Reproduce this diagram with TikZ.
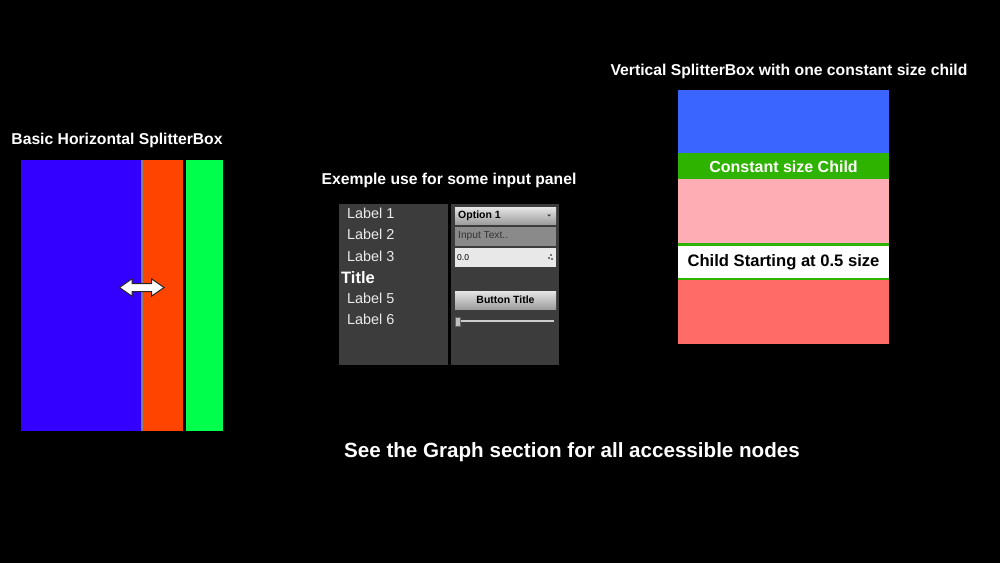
\documentclass[tikz,border=0pt]{standalone}
\usepackage{fontspec}
\setmainfont{Liberation Sans}
\begin{document}
\begin{tikzpicture}[x=1pt,y=-1pt,
  ttl/.style={text=white,font=\bfseries\fontsize{15.7}{16}\selectfont,inner sep=0pt},
  lbl/.style={text=white!92!black,font=\fontsize{14.4}{15}\selectfont,inner sep=0pt,anchor=west},
  wtxt/.style={font=\fontsize{10.2}{10}\selectfont,inner sep=0pt,anchor=west},
  big/.style={font=\bfseries\fontsize{16}{16}\selectfont,inner sep=0pt}]
\fill[black] (0,0) rectangle (1000,563);
\useasboundingbox (0,0) rectangle (1000,563);
% ---- left
\node[ttl] (t1) at (117,140) {Basic Horizontal SplitterBox};
\fill[fill={rgb,255:red,51;green,0;blue,255}] (21,160) rectangle (141,431);
\fill[gray] (141,160) rectangle (143,431);
\fill[fill={rgb,255:red,255;green,68;blue,0}] (143,160) rectangle (183,431);
\fill[fill={rgb,255:red,0;green,255;blue,76}] (186,160) rectangle (223,431);
\draw[fill=white,draw=black!85,line width=1pt,line join=miter]
 (119.5,287.5) -- (132,278.8) -- (132,283.5) -- (151.5,283.5) -- (151.5,278.8) -- (164,287.5)
 -- (151.5,296.2) -- (151.5,291.5) -- (132,291.5) -- (132,296.2) -- cycle;
% ---- middle
\node[ttl] (t2) at (449,180) {Exemple use for some input panel};
\fill[fill={rgb,255:red,60;green,60;blue,60}] (339,204) rectangle (559,365);
\fill[black] (448,204) rectangle (451,365);
\node[lbl] (l1) at (347,213) {Label 1};
\node[lbl] (l2) at (347,234) {Label 2};
\node[lbl] (l3) at (347,256) {Label 3};
\node[lbl,font=\bfseries\fontsize{16.5}{17}\selectfont,text=white] (lt) at (341,278) {Title};
\node[lbl] (l5) at (347,298) {Label 5};
\node[lbl] (l6) at (347,319) {Label 6};
% dropdown
\shade[top color=white!90!black,bottom color=white!62!black] (455,207) rectangle (556,224);
\node[wtxt,font=\bfseries\fontsize{10.5}{10}\selectfont] (opt) at (458,215.5) {Option 1};
\fill[black!80] (547,214.5) -- (551,214.5) -- (549,216.5) -- cycle;
% input text
\fill[fill={rgb,255:red,138;green,138;blue,138}] (455,227) rectangle (556,246);
\node[wtxt,text=black!80] (inp) at (458,236.5) {Input Text..};
\fill[fill={rgb,255:red,232;green,232;blue,232}] (455,248) rectangle (556,267);
\node[wtxt,font=\fontsize{8.5}{8}\selectfont] (num) at (457,257.5) {0.0};
\fill[black] (551,255) circle (0.8) (549,258) circle (0.8) (552,259) circle (0.8);
% button
\shade[top color=white!90!black,bottom color=white!62!black] (455,291) rectangle (556,309);
\node[font=\bfseries\fontsize{10.5}{10}\selectfont,inner sep=0pt] (btn) at (505.5,300) {Button Title};
% slider
\fill[white!80!black] (457,320.3) rectangle (554,321.7);
\fill[white!75!black,draw=black!60,line width=0.4pt] (455.5,317) rectangle (460,326);
% ---- right
\node[ttl] (t3) at (789,71) {Vertical SplitterBox with one constant size child};
\fill[fill={rgb,255:red,58;green,102;blue,255}] (678,90) rectangle (889,153);
\fill[fill={rgb,255:red,45;green,179;blue,0}] (678,153) rectangle (889,179);
\node[big,text=white] (c1) at (783.5,166.5) {Constant size Child};
\fill[fill={rgb,255:red,255;green,173;blue,181}] (678,179) rectangle (889,243);
\fill[fill={rgb,255:red,45;green,179;blue,0}] (678,243) rectangle (889,280);
\fill[white] (678,245.5) rectangle (889,278);
\node[big,text=black,font=\bfseries\fontsize{16.6}{17}\selectfont] (c2) at (783.5,262) {Child Starting at 0.5 size};
\fill[fill={rgb,255:red,255;green,107;blue,102}] (678,280) rectangle (889,344);
% ---- bottom
\node[ttl,font=\bfseries\fontsize{20.6}{21}\selectfont] (bt) at (572,452) {See the Graph section for all accessible nodes};
\end{tikzpicture}
\end{document}
